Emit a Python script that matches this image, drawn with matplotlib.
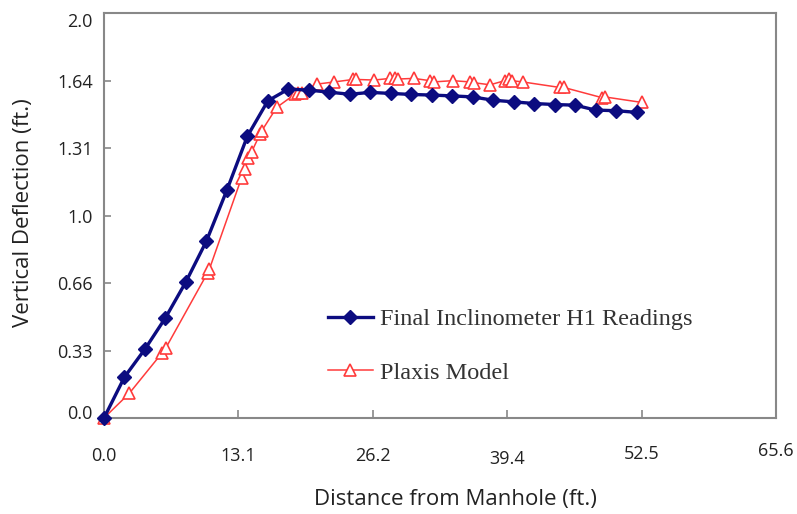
import matplotlib
matplotlib.use("Agg")
import matplotlib.pyplot as plt
from matplotlib.transforms import ScaledTranslation

# ---- data (feet) ----
readings_x = [0, 2, 4, 6, 8, 10, 12, 14, 16, 18, 20, 22, 24, 26, 28, 30, 32, 34,
              36, 38, 40, 42, 44, 46, 48, 50, 52]
readings_y = [0.0, 0.199, 0.335, 0.487, 0.662, 0.86, 1.108, 1.37, 1.542, 1.599,
              1.594, 1.584, 1.574, 1.583, 1.578, 1.573, 1.57, 1.566, 1.561, 1.545,
              1.537, 1.529, 1.524, 1.521, 1.497, 1.494, 1.486]

plaxis_x = [0.0, 2.47, 5.63, 6.02, 10.12, 10.3, 13.44, 13.76, 14.09, 14.42, 15.23,
            15.39, 16.86, 18.64, 18.97, 19.3, 20.76, 22.5, 24.34, 24.6, 26.39, 27.92,
            28.41, 28.7, 30.26, 31.83, 32.22, 34.04, 35.73, 36.12, 37.7, 39.14,
            39.56, 39.8, 40.87, 44.51, 44.9, 48.58, 48.9, 52.55]
plaxis_y = [0.0, 0.12, 0.314, 0.339, 0.706, 0.725, 1.169, 1.213, 1.262, 1.294, 1.38,
            1.395, 1.51, 1.574, 1.578, 1.58, 1.623, 1.634, 1.646, 1.646, 1.643, 1.651,
            1.651, 1.648, 1.651, 1.64, 1.634, 1.64, 1.634, 1.63, 1.62, 1.64,
            1.646, 1.64, 1.634, 1.607, 1.607, 1.558, 1.561, 1.534]

x_tick_vals = [0, 13.123, 26.247, 39.37, 52.493, 65.617]
x_tick_labels = ["0.0", "13.1", "26.2", "39.4", "52.5", "65.6"]
y_tick_vals = [0, 0.328, 0.656, 0.984, 1.312, 1.640, 1.969]
y_tick_labels = ["0.0", "0.33", "0.66", "1.0", "1.31", "1.64", "2.0"]

series_labels = ["Final Inclinometer H1 Readings", "Plaxis Model"]

# ---- figure ----
W, H = 797, 514
fig = plt.figure(figsize=(W / 100, H / 100), dpi=100)
ax = fig.add_axes([104 / W, 1 - 418 / H, 672 / W, 405 / H])

blue = "#0c0c80"
red = "#ff3b3b"

ax.plot(readings_x, readings_y, color=blue, lw=2.4, marker="D", ms=7.5,
        mfc=blue, mec=blue, label=series_labels[0], zorder=3, clip_on=False)
ax.plot(plaxis_x, plaxis_y, color=red, lw=1.1, marker="^", ms=8,
        mfc="white", mec=red, mew=1.2, label=series_labels[1], zorder=2, clip_on=False)

ax.set_xlim(0, 65.617)
ax.set_ylim(0, 1.969)

ax.set_xticks(x_tick_vals)
ax.set_xticklabels(x_tick_labels)
ax.set_yticks(y_tick_vals)
ax.set_yticklabels(y_tick_labels)

for lab in ax.get_xticklabels() + ax.get_yticklabels():
    lab.set_fontfamily("Open Sans")
    lab.set_fontsize(13)
    lab.set_color("#222222")

ax.tick_params(axis="x", direction="in", length=6, width=1.2, color="#888888", pad=21)
ax.tick_params(axis="y", direction="in", length=5, width=1.2, color="#888888", pad=8)

# small per-label offsets as in the reference
xoffs = {"39.4": -3, "52.5": 2, "65.6": 5}
for lab in ax.get_xticklabels():
    dy = xoffs.get(lab.get_text(), 0)
    if dy:
        lab.set_transform(lab.get_transform() + ScaledTranslation(0, dy / 100, fig.dpi_scale_trans))
yoffs = {"2.0": -7, "0.0": 6}
for lab in ax.get_yticklabels():
    dy = yoffs.get(lab.get_text(), 0)
    if dy:
        lab.set_transform(lab.get_transform() + ScaledTranslation(0, dy / 100, fig.dpi_scale_trans))

for sp in ax.spines.values():
    sp.set_color("#888888")
    sp.set_linewidth(1.5)

fig.text(455 / W, 1 - 500 / H, "Distance from Manhole (ft.)", fontfamily="Open Sans",
         fontsize=16, color="#222222", ha="center", va="center")
fig.text(24 / W, 1 - 213 / H, "Vertical Deflection (ft.)", fontfamily="Open Sans",
         fontsize=16, color="#222222", ha="center", va="center", rotation=90)

leg = ax.legend(loc="center left", bbox_to_anchor=(0.333, 0.178), frameon=False,
                prop=dict(family="Liberation Serif", size=17.5), handlelength=1.85,
                handletextpad=0.3, labelspacing=1.3, borderpad=0, borderaxespad=0)
for t in leg.get_texts():
    t.set_color("#333333")

fig.savefig("out.png", dpi=100)
